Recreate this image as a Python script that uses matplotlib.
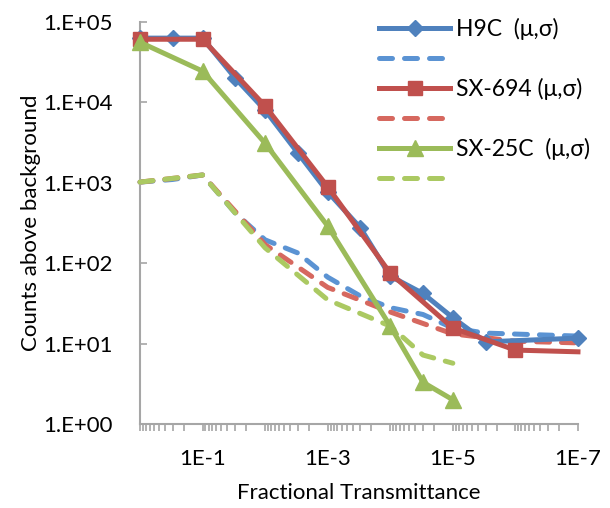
import math
import matplotlib
matplotlib.use("Agg")
import matplotlib.pyplot as plt
from matplotlib.ticker import FixedLocator, FuncFormatter, LogLocator, NullFormatter

plt.rcParams['font.family'] = ['Lato', 'DejaVu Sans']

# H9C
h9c_x = [1, 3e-1, 1e-1, 3e-2, 1e-2, 3e-3, 1e-3, 3e-4, 1e-4, 3e-5, 1e-5, 3e-6, 1e-7]
h9c_mu = [63000, 63000, 63000, 20000, 8000, 2350, 770, 275, 69, 42, 21, 10.5, 11.7]
h9c_sd = [1020, 1100, 1250, 420, 195, 134, 67, 39, 28, 23, 15.6, 13.5, 12.4]

# SX-694
sx694_x = [1, 1e-1, 1e-2, 1e-3, 1e-4, 1e-5, 1e-6, 1e-7]
sx694_mu = [61000, 61000, 9000, 890, 75, 15.6, 8.3, 7.9]
sx694_sd = [1020, 1250, 170, 50, 24.7, 13.2, 10.7, 10.2]

# SX-25C
sx25c_x = [1, 1e-1, 1e-2, 1e-3, 1e-4, 3e-5, 1e-5]
sx25c_mu = [56000, 24500, 3100, 290, 16.5, 3.3, 2.0]
sx25c_sd = [1020, 1250, 155, 35, 16.5, 7.2, 5.7]

labels = ['H9C  (\u03bc,\u03c3)', 'SX-694 (\u03bc,\u03c3)', 'SX-25C  (\u03bc,\u03c3)']
x_ticks = [1e-1, 1e-3, 1e-5, 1e-7]
y_ticks = [1, 10, 100, 1e3, 1e4, 1e5]

blue, blue_l = '#4F81BD', '#5B93D3'
red, red_l = '#C0504D', '#D6685F'
green, green_l = '#9BBB59', '#ABC962'

fig = plt.figure(figsize=(6.1, 5.08), dpi=100)
ax = fig.add_axes([0.2295, 0.1654, 0.718, 0.7913])

lw = 3.6
dash = dict(lw=lw, ls=(0, (2.6, 2.4)), dash_capstyle='round', clip_on=False)

ax.plot(h9c_x, h9c_mu, color=blue, lw=lw, marker='D', ms=8.5, label=labels[0], clip_on=False, zorder=3)
ax.plot(h9c_x, h9c_sd, color=blue_l, label=' ', zorder=2, **dash)
ax.plot(sx694_x, sx694_mu, color=red, lw=lw, marker='s', ms=10.5, markevery=list(range(len(sx694_x) - 1)),
        label=labels[1], clip_on=False, zorder=4)
ax.plot(sx694_x, sx694_sd, color=red_l, label=' ', zorder=2.5, **dash)
ax.plot(sx25c_x, sx25c_mu, color=green, lw=lw, marker='^', ms=11, label=labels[2], clip_on=False, zorder=5)
ax.plot(sx25c_x, sx25c_sd, color=green_l, label=' ', zorder=2.8, **dash)

ax.set_xscale('log')
ax.set_yscale('log')
ax.set_xlim(1, 1e-7)
ax.set_ylim(1, 1e5)

axis_grey = '#A6A6A6'
for s in ['top', 'right']:
    ax.spines[s].set_visible(False)
for s in ['left', 'bottom']:
    ax.spines[s].set_color(axis_grey)
    ax.spines[s].set_linewidth(1.5)


def x_fmt(v, pos):
    if any(abs(v / t - 1) < 1e-6 for t in x_ticks):
        return f'1E-{round(-math.log10(v))}'
    return ''


ax.xaxis.set_major_locator(FixedLocator([10.0 ** -k for k in range(0, 8)]))
ax.xaxis.set_major_formatter(FuncFormatter(x_fmt))
ax.xaxis.set_minor_locator(LogLocator(base=10, subs=range(2, 10), numticks=20))
ax.xaxis.set_minor_formatter(NullFormatter())
ax.tick_params(axis='x', which='both', direction='out', length=5, width=1.2, color=axis_grey,
               labelsize=16, pad=13)

ax.yaxis.set_major_locator(FixedLocator(y_ticks))
ax.yaxis.set_major_formatter(FuncFormatter(lambda v, p: f'1.E+{round(math.log10(v)):02d}'))
ax.yaxis.set_minor_locator(FixedLocator([]))
ax.tick_params(axis='y', which='both', direction='in', length=5, width=1.2, color=axis_grey,
               labelsize=16, pad=19.5)

ax.set_xlabel('Fractional Transmittance', fontsize=16, labelpad=10)
ax.set_ylabel('Counts above background', fontsize=16, labelpad=2)

leg = ax.legend(loc='upper left', bbox_to_anchor=(379 / 610, 1 - 18 / 508), bbox_transform=fig.transFigure,
                frameon=False, fontsize=16.5, handlelength=3.1, labelspacing=0.37, handletextpad=0.26,
                borderaxespad=0, borderpad=0)

fig.savefig('out.png', dpi=100)
